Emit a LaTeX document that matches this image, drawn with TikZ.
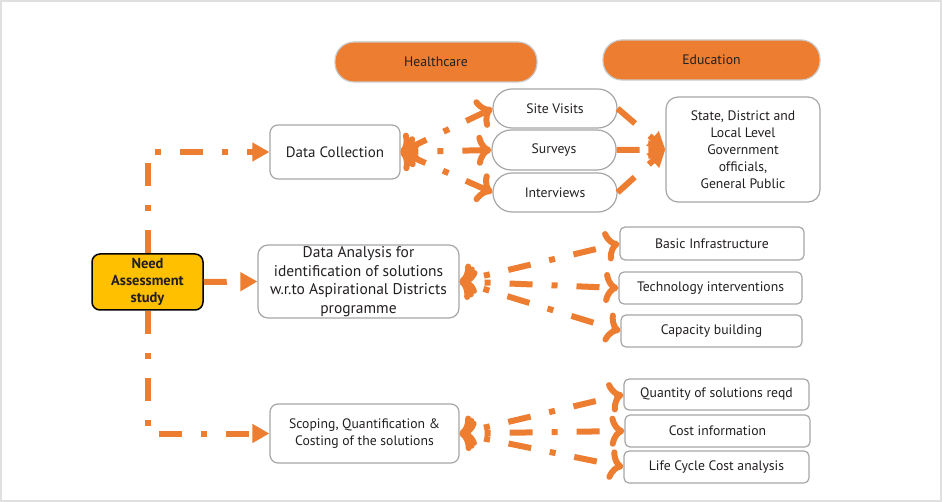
\documentclass[tikz,border=0pt]{standalone}
\usepackage{fontspec}
\setmainfont{PT Sans}
\usetikzlibrary{arrows.meta}
\definecolor{flowor}{HTML}{ED7D31}
\definecolor{needgold}{HTML}{FFC000}
\definecolor{boxgrey}{HTML}{A6A6A6}
\definecolor{inkgrey}{HTML}{231F20}
\tikzset{
	box/.style={draw=boxgrey, line width=1.2pt, rounded corners=8pt, align=center, text=inkgrey, inner sep=0pt, font=\fontsize{13.7}{17}\selectfont},
	pill/.style={box, rounded corners=19pt},
	tab/.style={pill, fill=flowor, draw=boxgrey!60},
	flowline/.style={draw=flowor, line width=6pt, dash pattern=on 23pt off 19pt on 6pt off 19pt, -{Triangle[length=17pt,width=18pt]}},
}

\begin{document}
\begin{tikzpicture}[x=1pt, y=-1pt]
			%%%%% START %%%%%
			
			\useasboundingbox (0, 0) rectangle (942, 502);
			\draw[line width=2pt, color=black!12] (1, 1) rectangle (941, 501);
			
			\node[tab, minimum width=202pt, minimum height=40pt] (hc) at (436, 62) {Healthcare};
			\node[tab, minimum width=217pt, minimum height=40pt] (ed) at (711.5, 60) {Education};
			
			\node[box, minimum width=130pt, minimum height=54pt, font=\fontsize{15}{17}\selectfont] (dc) at (335, 152) {Data Collection};
			\node[pill, minimum width=124pt, minimum height=39pt] (sv) at (555, 108.5) {Site Visits};
			\node[pill, minimum width=124pt, minimum height=40pt] (su) at (554, 150) {Surveys};
			\node[pill, minimum width=124pt, minimum height=39pt] (iv) at (555, 192.5) {Interviews};
			\node[box, rounded corners=12pt, minimum width=154pt, minimum height=105pt] (st) at (743, 149.5) {State, District and\\Local Level\\Government\\officials,\\General Public};
			
			\node[box, draw=black, line width=1.5pt, fill=needgold, minimum width=111pt, minimum height=56pt, font=\fontsize{14.5}{17}\selectfont\bfseries] (na) at (147.5, 282) {Need\\Assessment\\study};
			
			\node[box, rounded corners=10pt, minimum width=201pt, minimum height=73pt, font=\fontsize{15.5}{18.7}\selectfont] (da) at (358.5, 281.5) {Data Analysis for\\identification of solutions\\w.r.to Aspirational Districts\\programme};
			\node[box, rounded corners=5pt, minimum width=184pt, minimum height=33pt] (bi) at (712, 243.5) {Basic Infrastructure};
			\node[box, rounded corners=5pt, minimum width=183pt, minimum height=32pt] (ti) at (710.5, 288) {Technology interventions};
			\node[box, rounded corners=5pt, minimum width=181pt, minimum height=32pt] (cb) at (711.5, 331) {Capacity building};
			
			\node[box, minimum width=189pt, minimum height=59pt] (sc) at (364.5, 433.5) {Scoping, Quantification \&\\Costing of the solutions};
			\node[box, rounded corners=5pt, minimum width=185pt, minimum height=31pt] (qs) at (716.5, 394.5) {Quantity of solutions reqd};
			\node[box, rounded corners=5pt, minimum width=185pt, minimum height=32pt] (ci) at (717.5, 431) {Cost information};
			\node[box, rounded corners=5pt, minimum width=185pt, minimum height=32pt] (lc) at (716.5, 467) {Life Cycle Cost analysis};
			
			\draw[flowline] (na.north) |- (dc.west);
			\draw[flowline] (na.east) -- (da.west);
			\draw[flowline] (na.south) |- (sc.west);
			
			\foreach \n in {sv, su, iv} {
				\draw[flowline, <->] (\n.west) -- (dc.east);
				\draw[flowline] (\n.east) -- (st.west);
			}
			\foreach \n in {bi, ti, cb}
				\draw[flowline, <->, dash phase=23pt] (da.east) -- (\n.west);
			\foreach \n in {qs, ci, lc}
				\draw[flowline, <->, dash phase=23pt] (sc.east) -- (\n.west);
			
			%%%%% END %%%%%
		\end{tikzpicture}
\end{document}
